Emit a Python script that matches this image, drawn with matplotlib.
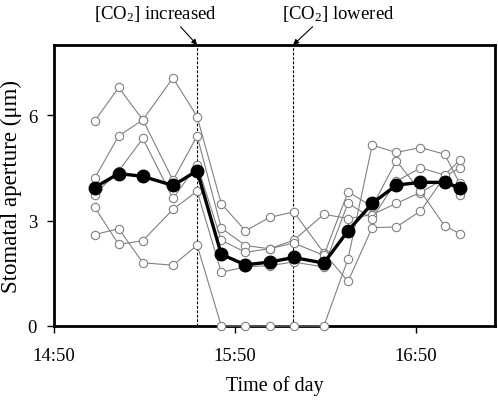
# stomatal aperture time course, individual stomata + mean

import matplotlib
matplotlib.use('Agg')
import matplotlib.pyplot as plt
from matplotlib.ticker import FixedLocator, FuncFormatter

plt.rcParams['font.family'] = ['Liberation Serif', 'DejaVu Serif']
plt.rcParams['mathtext.fontset'] = 'custom'
plt.rcParams['mathtext.rm'] = 'Liberation Serif'
plt.rcParams['mathtext.default'] = 'regular'

# minutes after 14:50
time_min = [13.5, 21.5, 29.5, 39.5, 47.5, 55.5, 63.5, 71.5,
            79.5, 89.5, 97.5, 105.5, 113.5, 121.5, 129.5, 134.5]

stoma_1 = [5.83, 6.79, 5.87, 7.06, 5.96, 3.48, 2.71, 3.09,
           3.25, 2.08, 1.27, 2.80, 2.82, 3.27, 4.25, 4.50]
stoma_2 = [4.20, 5.41, 5.87, 4.15, 5.41, 2.79, 2.29, 2.20,
           2.44, 3.18, 3.06, 3.17, 3.49, 3.80, 4.20, 3.74]
stoma_3 = [3.74, 4.41, 5.34, 3.63, 4.59, 2.44, 2.10, 2.20,
           2.36, 2.01, 3.82, 3.40, 4.70, 3.84, 2.85, 2.63]
stoma_4 = [3.39, 2.32, 2.43, 3.32, 3.84, 1.53, 1.68, 1.72,
           1.82, 1.68, 3.50, 3.06, 4.12, 4.50, 4.30, 4.72]
stoma_5 = [2.60, 2.77, 1.80, 1.73, 2.30, 0.00, 0.00, 0.00,
           0.00, 0.00, 1.91, 5.15, 4.94, 5.08, 4.89, 4.06]

mean_aperture = [3.94, 4.34, 4.26, 4.00, 4.42, 2.04, 1.74, 1.82,
                 1.95, 1.79, 2.71, 3.49, 4.01, 4.09, 4.09, 3.94]

co2_events = [47.5, 79.3]
co2_labels = ['[CO$_2$] increased', '[CO$_2$] lowered']

x_ticks = [0, 60, 120]
x_tick_labels = ['14:50', '15:50', '16:50']


fig = plt.figure(figsize=(4.98, 4.02), dpi=100)
ax = fig.add_axes([0.108, 0.1866, 0.886, 0.699])

for s in [stoma_1, stoma_2, stoma_3, stoma_4, stoma_5]:
    ax.plot(time_min, s, color='#808080', lw=0.8, marker='o', ms=6,
            mfc='white', mec='#808080', mew=0.8, clip_on=False, zorder=3)

ax.plot(time_min, mean_aperture, color='black', lw=2.4, marker='o', ms=9,
        mfc='black', mec='black', zorder=5)

for t in co2_events:
    ax.axvline(t, color='black', lw=0.8, ls=(0, (2.5, 1.5)), zorder=2)

ax.set_xlim(0, 146.2)
ax.set_ylim(0, 8)
ax.xaxis.set_major_locator(FixedLocator(x_ticks))
ax.xaxis.set_major_formatter(FuncFormatter(lambda v, p: x_tick_labels[x_ticks.index(int(round(v)))]))
ax.set_yticks([0, 3, 6])

ax.tick_params(axis='both', direction='out', length=5, width=1, labelsize=13.5, colors='black')
ax.tick_params(axis='x', pad=10)
ax.tick_params(axis='y', pad=7)
for sp in ax.spines.values():
    sp.set_linewidth(2)

ax.set_xlabel('Time of day', fontsize=14.5, labelpad=8)
ax.set_ylabel('Stomatal aperture (\u03bcm)', fontsize=16.5, labelpad=4)

# annotations above the plot
text_pos = [(155, 388), (338, 388)]
rel = [(0.68, 0.0), (0.31, 0.0)]
for t, lab, pos, rp in zip(co2_events, co2_labels, text_pos, rel):
    ax.annotate(lab, xy=(t, 8), xycoords='data', xytext=pos,
                textcoords='figure pixels', ha='center', va='center',
                fontsize=13.5, annotation_clip=False,
                arrowprops=dict(arrowstyle='-|>', color='black', lw=0.8,
                                mutation_scale=8, relpos=rp,
                                shrinkA=1, shrinkB=0))

fig.savefig('out.png', dpi=100)
